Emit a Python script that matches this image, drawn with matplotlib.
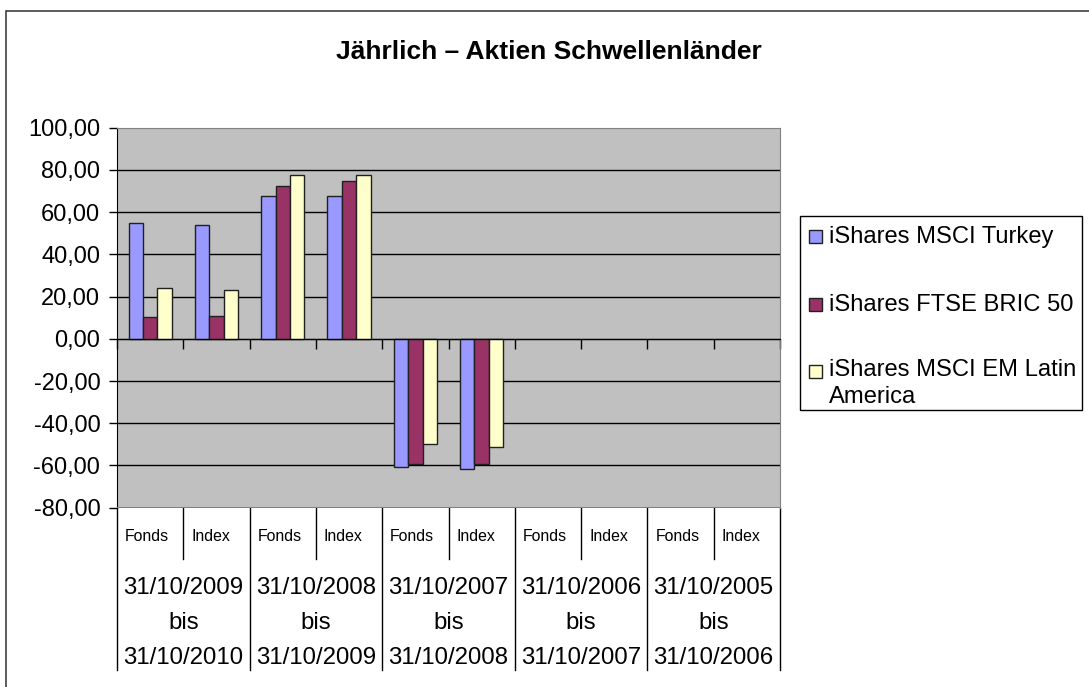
import matplotlib.pyplot as plt
from matplotlib.patches import Rectangle
from matplotlib.transforms import blended_transform_factory

plt.rcParams['font.family'] = ['Liberation Sans', 'DejaVu Sans']

# Daten
kategorien = ['Fonds', 'Index'] * 5
zeitraeume = ['31/10/2009\nbis\n31/10/2010', '31/10/2008\nbis\n31/10/2009',
              '31/10/2007\nbis\n31/10/2008', '31/10/2006\nbis\n31/10/2007',
              '31/10/2005\nbis\n31/10/2006']
serien = ['iShares MSCI Turkey', 'iShares FTSE BRIC 50', 'iShares MSCI EM Latin\nAmerica']
turkey = [54.8, 54.1, 67.8, 67.8, -60.7, -61.9]
bric = [10.1, 11.0, 72.2, 74.7, -59.1, -59.1]
latam = [24.0, 23.2, 77.4, 77.4, -49.7, -51.4]
farben = ['#9999FF', '#993366', '#FFFFCC']

fig = plt.figure(figsize=(10.89, 6.87), dpi=100)
W, H = 1089, 687
fig.patches.append(Rectangle((6 / W, -0.1), 1.2, 1 - 11 / H + 0.1, transform=fig.transFigure,
                             fill=False, edgecolor='#404040', linewidth=1.2))

ax = fig.add_axes([117 / W, 1 - 507.7 / H, 663 / W, 380 / H])
ax.set_facecolor('#C0C0C0')

bw = 0.217
werte = [turkey, bric, latam]
for i, (vals, c) in enumerate(zip(werte, farben)):
    xs = [k + 0.5 + (i - 1) * bw for k in range(len(vals))]
    ax.bar(xs, vals, width=bw, color=c, edgecolor='#202020', linewidth=1, zorder=3)

ax.set_xlim(0, len(kategorien))
ax.set_ylim(-80, 100)
ax.set_yticks(range(-80, 101, 20))
ax.set_yticklabels([f'{v:.2f}'.replace('.', ',') for v in range(-80, 101, 20)], fontsize=17)
ax.tick_params(axis='y', direction='out', length=6, width=1, pad=6)
for y in range(-60, 100, 20):
    ax.axhline(y, color='black', linewidth=1, zorder=1)

ax.spines['bottom'].set_position(('data', 0))
ax.spines['bottom'].set_zorder(4)
ax.set_xticks(range(0, len(kategorien) + 1))
ax.tick_params(axis='x', direction='out', length=7, width=1, labelbottom=False)
ax.spines['top'].set_color('#808080')
ax.spines['right'].set_color('#808080')
ax.spines['left'].set_color('black')
ax.axhline(-80, color='#808080', linewidth=1.5, zorder=5)

# Beschriftungstabelle unter dem Diagramm
tr = blended_transform_factory(ax.transData, ax.transAxes)
for k in range(len(kategorien) + 1):
    ybot = -0.427 if k % 2 == 0 else -0.135
    ax.plot([k, k], [0, ybot], transform=tr, color='black', linewidth=1, clip_on=False)
for k, lab in enumerate(kategorien):
    ax.text(k + 0.12, -0.077, lab, transform=tr, ha='left', va='center', fontsize=11.4)
for g, lab in enumerate(zeitraeume):
    ax.text(2 * g + 1, -0.303, lab, transform=tr, ha='center', va='center',
            fontsize=17.3, linespacing=1.75, multialignment='center')

fig.text(549 / W, 1 - 52 / H, 'Jährlich – Aktien Schwellenländer', ha='center', va='center',
         fontsize=19, fontweight='bold')

# Legende
fig.patches.append(Rectangle((800 / W, 1 - 410 / H), 282 / W, 194 / H, transform=fig.transFigure,
                             fill=False, edgecolor='black', linewidth=1))
ys = [237, 305, 372]
for name, c, y in zip(serien, farben, ys):
    fig.patches.append(Rectangle((809 / W, 1 - (y + 6) / H), 13 / W, 13 / H, transform=fig.transFigure,
                                 facecolor=c, edgecolor='#202020', linewidth=1))
    if '\n' in name:
        fig.text(829 / W, 1 - (y - 13) / H, name, ha='left', va='top',
                 fontsize=17.1, linespacing=1.3)
    else:
        fig.text(829 / W, 1 - y / H, name, ha='left', va='center', fontsize=17.1)

fig.savefig('out.png', dpi=100)
